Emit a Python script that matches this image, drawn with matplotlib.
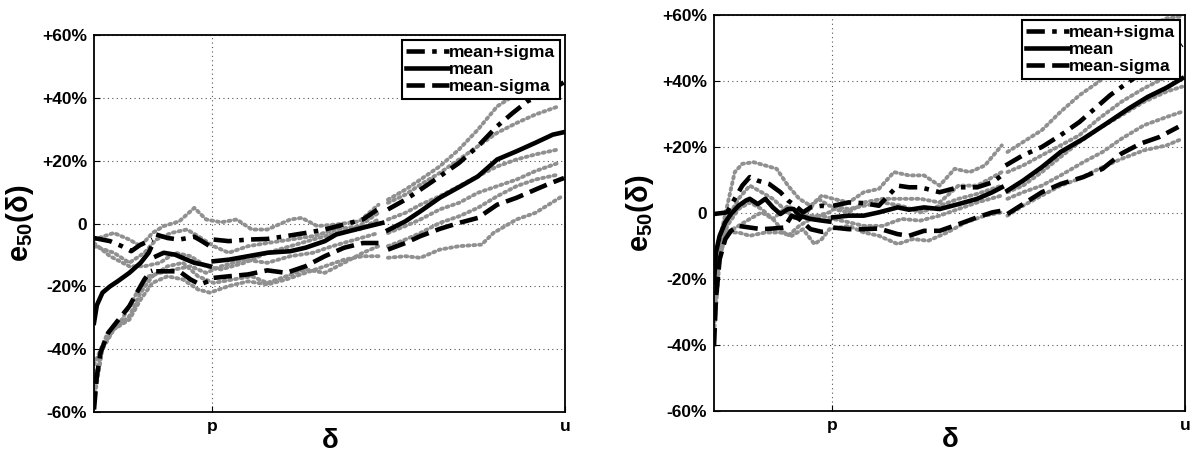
import numpy as np
import matplotlib
matplotlib.use('Agg')
import matplotlib.pyplot as plt

plt.rcParams['font.family'] = ['Liberation Sans', 'DejaVu Sans']
plt.rcParams['font.weight'] = 'bold'
plt.rcParams['mathtext.fontset'] = 'custom'
plt.rcParams['mathtext.rm'] = 'Liberation Sans:bold'
plt.rcParams['mathtext.it'] = 'Liberation Sans:bold'
plt.rcParams['mathtext.bf'] = 'Liberation Sans:bold'
plt.rcParams['mathtext.default'] = 'bf'

nan = np.nan

# x is delta normalised to [0, u]; p sits at 0.25, y is e50 in percent
y_ticks = [-60, -40, -20, 0, 20, 40, 60]
y_labels = ['-60%', '-40%', '-20%', '0', '+20%', '+40%', '+60%']
x_ticks = [0.25, 1.0]
x_labels = ['p', 'u']

# ---- left panel ----
l_mean_x = [0, .006, .018, .034, .050, .075, .099, .116, .120, nan, .132, .148, .172, .197, .213, .229, .246, nan,
            .254, .286, .327, .368, .417, .449, .490, .514, .555, .612, nan,
            .624, .661, .693, .734, .775, .815, .856, .897, .937, .974, .998]
l_mean_y = [-31.6, -26, -22, -20, -18.4, -15.7, -12.5, -9.3, -8, nan, -10.4, -9.3, -9.9, -11.5, -12.5, -13, -13.6, nan,
            -12, -11.5, -10.4, -9.3, -8.8, -7.7, -5.6, -3.5, -1.9, 0.2, nan,
            -2.1, 0.7, 3.9, 8.2, 11.6, 15, 20.4, 23, 25.7, 28.3, 29.1]

l_hi_x = [0, .034, .059, .079, .099, .116, .124, nan, .132, .156, .181, .213, .229, .246, nan,
          .254, .286, .327, .368, .408, .449, .490, .531, .571, .612, nan,
          .624, .661, .693, .734, .775, .815, .856, .889, .921, .954, .998]
l_hi_y = [-4.6, -5.6, -7.2, -8.8, -6.7, -5.6, -5.1, nan, -3.5, -4.6, -5.1, -4.2, -5.6, -7.2, nan,
          -5.1, -5.6, -5.1, -4.9, -4.0, -3.0, -1.9, -0.3, 1.3, 5.5, nan,
          4.5, 7.6, 10.8, 15, 19.3, 24.6, 31, 35.2, 39, 41, 45]

l_lo_x = [0, .006, .014, .030, .050, .075, .091, .107, .120, .124, nan, .132, .156, .181, .205, .225, .242, nan,
          .254, .286, .327, .368, .408, .449, .490, .531, .571, .604, nan,
          .624, .661, .693, .734, .775, .815, .856, .897, .937, .970, .998]
l_lo_y = [-59.2, -48.6, -41, -34.8, -31, -26.3, -22, -17.8, -15.2, -15, nan, -15.2, -15.2, -15.2, -17.8, -19.4, -18.4, nan,
          -17.3, -16.8, -16.2, -14.9, -15.7, -13.6, -10.4, -7.7, -6.2, -6.2, nan,
          -8.3, -6.2, -4.0, -1.7, 0.2, 1.8, 6.0, 8.2, 10.8, 12.9, 14.5]

l_runs_x = [
    [0, .042, .075, .099, .124, .148, .181, .213, .238, .270, .303, .335, .368, .417, .441, .474, .514, .563, .604, nan,
     .624, .661, .693, .734, .775, .815, .856, .889],
    [0, .042, .075, .107, .132, .164, .197, .221, .254, .286, .327, .368, .417, .465, .514, .563, .604, nan,
     .624, .661, .693, .734, .775, .815, .856, .897, .937, .986],
    [0, .034, .075, .107, .140, .172, .205, .238, .270, .319, .368, .417, .465, .514, .563, .604, nan,
     .624, .661, .693, .734, .775, .815, .856, .897, .937, .986],
    [0, .018, .042, .075, .099, .124, .156, .189, .221, .254, .295, .335, .368, .408, .449, .490, .531, .571, .604, nan,
     .624, .661, .693, .734, .775, .815, .856, .897, .937, .986],
    [0, .018, .042, .075, .099, .124, .156, .189, .221, .246, .286, .327, .368, .408, .449, .490, .531, .571, .604, nan,
     .624, .661, .693, .734, .775, .823, .848, .897, .937, .994],
    [0, .026, .059, .091, .116, .140, .172, .205, .238, .270, .319, .368, .417, .465, .506, .555, .604, nan,
     .624, .661, .693, .734, .775, .815, .856, .897, .937, .986],
]
l_runs_y = [
    [-5.1, -3, -5.1, -7.2, -3, -0.8, 0.7, 5, 1.3, 0.4, 1.3, -1.9, -1.9, 1.3, 1.8, -0.8, -0.3, 0.7, 6, nan,
     7.6, 10.8, 14, 18.2, 23.6, 29.9, 37.3, 40.5],
    [-7.2, -9.3, -12.5, -9.3, -5.1, -3, -1.9, -4, -7.2, -9.3, -7.2, -6.2, -5.1, -4, -1.9, -0.8, 3.4, nan,
     6.6, 9.2, 12.4, 16.1, 20.4, 24.6, 28.9, 32, 34.7, 37.3],
    [-6.2, -10.4, -13.6, -13.6, -12.5, -9.3, -10.4, -13.6, -14.6, -12.5, -9.3, -7.2, -5.1, -3, -1.9, 1.3, nan,
     1.3, 3.4, 6, 8.7, 11.9, 15.1, 18.2, 20.4, 22, 23.6],
    [-56, -40, -33.7, -29.5, -22, -16.8, -13.6, -12.5, -16.8, -18.9, -17.8, -16.8, -18.9, -16.8, -14.6, -15.7, -12.5, -9.3, -7.2, nan,
     -3, -0.8, 1.3, 4.5, 6.6, 9.8, 11.9, 14, 16.7, 19.3],
    [-50.9, -39, -33.7, -30.6, -24.2, -18.9, -16.8, -17.8, -21, -22, -19.9, -18.4, -19.4, -17.8, -15.7, -13.6, -11.5, -10.4, -10.4, nan,
     -10.9, -10.4, -10.9, -8.3, -7.2, -6.7, -3, 1.3, 3.4, 8.7],
    [-45, -35.9, -30.6, -22, -16.8, -15.7, -14.6, -13.6, -15.7, -13.6, -11.5, -12.5, -10.4, -9.3, -7.2, -5.1, -3, nan,
     -7.2, -5.1, -3, 0.2, 2.3, 5, 8.7, 11.9, 14, 15.6],
]

# ---- right panel ----
r_mean_x = [0, .004, .012, .024, .036, .052, .068, .076, .093, .109, .125, .141, .157, .169, .181, .205, .229, .245, nan,
            .253, .286, .318, .350, .390, .414, .446, .479, .519, .559, .591, .611, nan,
            .623, .656, .696, .736, .784, .833, .881, .921, .961, .994]
r_mean_y = [-21, -12, -6.9, -2.8, -0.3, 2.2, 3.8, 4.3, 2.7, 4.3, 1.7, -0.3, 1.2, 1.2, -0.8, -1.8, -2.3, -2.6, nan,
            -1.3, -0.8, -0.8, 0.2, 1.7, 1.0, 1.7, 1.2, 2.7, 4.3, 6.3, 7.8, nan,
            6.8, 9.8, 13.9, 18.5, 22.5, 27.1, 31.7, 35.2, 38, 40.8]

r_hi_x = [0, .028, .044, .060, .076, .093, .117, .141, .157, .173, .189, .205, .229, .245, nan,
          .253, .286, .318, .350, .390, .414, .438, .479, .519, .559, .591, .611, nan,
          .619, .656, .696, .736, .776, .817, .841, .881, .945, .994]
r_hi_y = [-0.3, 0.2, 4.3, 8.3, 10.9, 9.8, 8.8, 6.3, 3.8, 2.2, 0.2, 1.7, 2.2, 1.7, nan,
          2.2, 3.2, 3.0, 2.2, 8.3, 7.8, 7.8, 6.3, 7.8, 7.8, 9.3, 11.4, nan,
          14.4, 17.5, 20, 23.6, 27.6, 32.7, 35.7, 39.8, 46, 51]

r_lo_x = [0, .004, .012, .024, .036, .052, .076, .101, .125, .149, .165, .181, .205, .229, .245, nan,
          .253, .286, .318, .350, .390, .414, .446, .479, .519, .559, .591, .611, nan,
          .623, .656, .696, .736, .784, .825, .865, .905, .945, .986]
r_lo_y = [-40.4, -26.2, -14, -7.9, -5.4, -3.9, -4.4, -4.9, -4.7, -4.4, -0.8, -1.8, -4.9, -5.7, -5.4, nan,
          -4.4, -4.9, -4.9, -4.7, -6.4, -6.9, -5.4, -5.4, -3.4, -1.3, 0.2, 0.7, nan,
          -0.3, 2.7, 6.3, 8.8, 10.9, 13.4, 18, 21, 23, 26.1]

r_runs_x = [
    [0, .012, .028, .044, .060, .084, .109, .133, .157, .181, .205, .229, .253, .286, .318, .350, .382, .414, .446, .479,
     .511, .543, .575, .611, nan, .623, .656, .696, .736, .776, .817, .865, .913, .961, .994],
    [0, .012, .028, .052, .076, .101, .125, .157, .189, .221, .245, .253, .286, .318, .358, .398, .438, .479, .519, .559, .611, nan,
     .623, .656, .696, .736, .776, .817, .865, .913, .961, .994],
    [0, .012, .028, .052, .076, .109, .141, .165, .189, .213, .229, .245, .286, .318, .350, .390, .422, .455, .495, .535, .575, .611, nan,
     .623, .656, .696, .736, .776, .817, .865, .913, .961, .994],
    [0, .012, .028, .052, .076, .101, .125, .149, .173, .197, .221, .245, .286, .318, .358, .398, .438, .479, .519, .559, .611, nan,
     .623, .656, .696, .736, .776, .817, .865, .913, .961, .994],
    [0, .012, .028, .052, .076, .101, .125, .149, .157, .181, .205, .229, .253, .286, .318, .358, .398, .438, .479, .519, .559, .611, nan,
     .623, .656, .696, .736, .784, .825, .865, .913, .961, .994],
]
r_runs_y = [
    [-19, -7.9, 2.2, 12.4, 14.9, 15.4, 14.4, 13.4, 8.3, 4.3, 2.2, 5.3, 4.3, 3.2, 6.3, 7.3, 12.4, 11.4, 11.4, 8.3,
     13.4, 12.4, 14.4, 20.5, nan, 18.5, 21.5, 25.1, 30.7, 35.7, 39.8, 46.9, 56, 59, 59.6],
    [-36.3, -14, -3.9, 1.2, 3.2, 1.2, -1.8, 2.2, -0.8, -0.8, 0.2, 1.2, 0.2, 3.2, 4.3, 4.3, 4.3, 3.2, 8.3, 8.3, 12.4, nan,
     12.4, 14.4, 17.5, 20.5, 23.6, 28.6, 33.7, 37.8, 41.3, 43.9],
    [-26.2, -11, -5.9, -5.9, -6.9, -5.9, -5.9, -6.9, -4.9, -9.4, -7.9, -4.9, -3.9, -5.9, -6.9, -9.4, -7.9, -8.4, -5.9, -2.8, -0.8, 0.2, nan,
     -0.8, 2.2, 5.3, 8.3, 10.4, 13.4, 16.4, 19, 20.5, 22.5],
    [-31.3, -12, -1.8, 4.3, 8.3, 6.3, 4.3, 1.2, -1.8, 0.2, 4.3, 2.2, 1.2, 2.2, 3.2, 2.2, 0.2, 2.2, 4.3, 5.8, 8.3, nan,
     6.3, 8.3, 12.4, 17, 21.5, 25.6, 29.6, 33.7, 36.8, 38.3],
    [-28.2, -13, -5.9, -3.9, -1.8, 0.2, -1.8, -5.9, -6.9, -3.9, -1.8, -0.8, -1.8, -2.8, -3.9, -3.9, -1.8, -2.3, -0.8, 1.2, 3.2, 5.3, nan,
     4.3, 6.3, 8.3, 11.4, 15.4, 18.5, 22.5, 26.6, 29.1, 30.7],
]


def draw_panel(ax, runs_x, runs_y, hi, mid, lo):
    for rx, ry in zip(runs_x, runs_y):
        ax.plot(rx, ry, color='#909090', lw=2.8, ls=(0, (0.5, 1.0)),
                dash_capstyle='round', zorder=2)
    ax.plot(hi[0], hi[1], color='k', lw=3.3, ls=(0, (4, 1.6, 1, 1.6)), label='mean+sigma', zorder=3)
    ax.plot(mid[0], mid[1], color='k', lw=3.3, ls='-', label='mean', zorder=3)
    ax.plot(lo[0], lo[1], color='k', lw=3.3, ls=(0, (4, 1.6)), label='mean-sigma', zorder=3)

    ax.set_xlim(0, 1)
    ax.set_ylim(-60, 60)
    ax.set_xticks(x_ticks)
    ax.set_xticklabels(x_labels)
    ax.set_yticks(y_ticks)
    ax.set_yticklabels(y_labels)
    ax.tick_params(direction='in', length=4, labelsize=12.5, pad=5)
    ax.grid(True, ls=(0, (1, 3)), color='#555555', lw=0.8)
    for s in ax.spines.values():
        s.set_linewidth(1.3)
    ax.set_xlabel(r'$\mathbf{\delta}$', fontsize=20, labelpad=-4)
    ax.set_ylabel(r'$\mathbf{e}_{\mathbf{50}}\mathbf{(\delta)}$', fontsize=21, labelpad=4)
    leg = ax.legend(loc='upper right', fontsize=12.5, handlelength=2.5, handletextpad=0.0,
                    borderpad=0.25, labelspacing=0.12, borderaxespad=0.3, fancybox=False,
                    framealpha=1, edgecolor='k')
    leg.get_frame().set_linewidth(1.5)
    leg.set_zorder(5)


fig = plt.figure(figsize=(11.93, 4.58), dpi=100)
ax1 = fig.add_axes([0.0788, 0.1004, 0.3948, 0.823])
ax2 = fig.add_axes([0.5985, 0.1026, 0.3948, 0.8646])

draw_panel(ax1, l_runs_x, l_runs_y, (l_hi_x, l_hi_y), (l_mean_x, l_mean_y), (l_lo_x, l_lo_y))
draw_panel(ax2, r_runs_x, r_runs_y, (r_hi_x, r_hi_y), (r_mean_x, r_mean_y), (r_lo_x, r_lo_y))

fig.savefig('out.png', dpi=100)
